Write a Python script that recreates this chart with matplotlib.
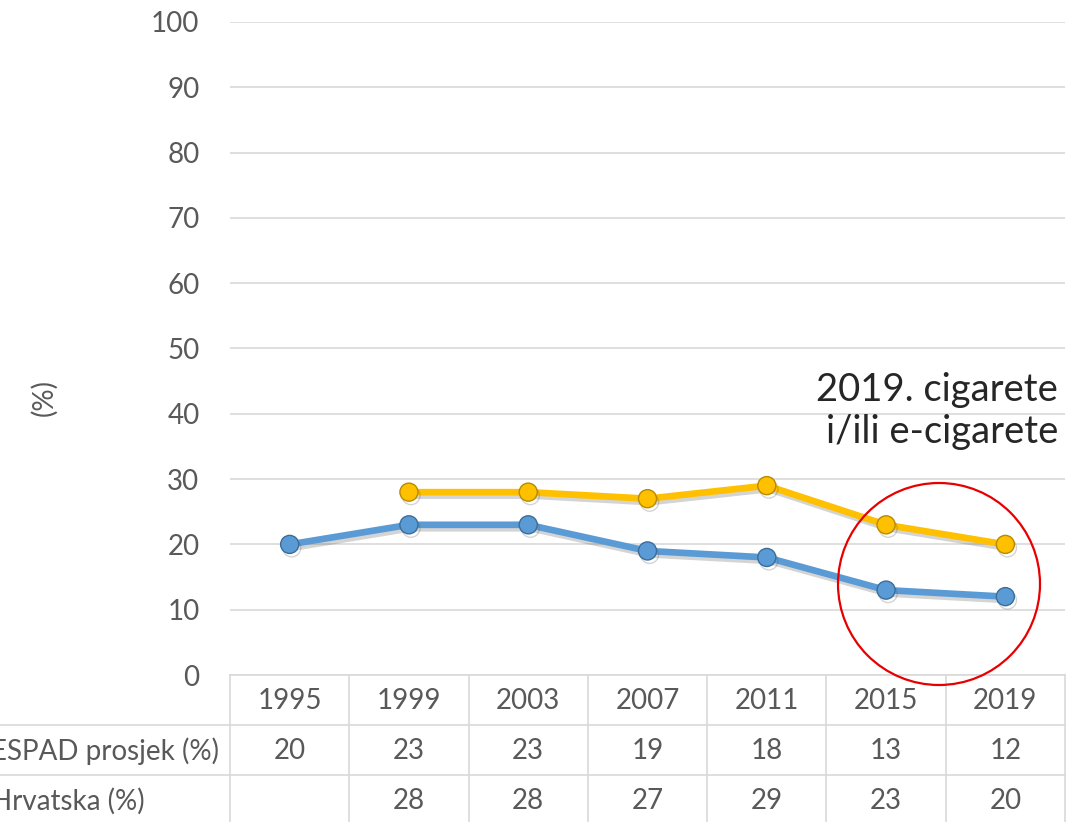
import matplotlib
matplotlib.use("Agg")
import matplotlib.pyplot as plt
import matplotlib.patheffects as pe
from matplotlib.patches import Ellipse
from matplotlib.transforms import blended_transform_factory
import numpy as np

years = ["1995", "1999", "2003", "2007", "2011", "2015", "2019"]
espad = [20, 23, 23, 19, 18, 13, 12]
hrvatska = [np.nan, 28, 28, 27, 29, 23, 20]
row_labels = ["ESPAD prosjek (%)", "Hrvatska (%)"]
y_ticks = list(range(0, 101, 10))
annotation = "2019. cigarete\ni/ili e-cigarete"

W, H = 1081, 822
plt.rcParams['font.family'] = ['Lato', 'DejaVu Sans']
TXT = '#595959'
GRID = '#d9d9d9'
FS = 20

fig = plt.figure(figsize=(W / 100, H / 100), dpi=100)

def fx(px):
    return px / W

def fy(py):
    return 1 - py / H

ax = fig.add_axes([fx(230), fy(675), fx(1065) - fx(230), fy(22) - fy(675)])
x = np.arange(len(years))
ax.set_xlim(-0.5, len(years) - 0.5)
ax.set_ylim(0, 100)
ax.set_yticks(y_ticks)
ax.set_yticklabels([str(v) for v in y_ticks], fontsize=FS, color=TXT)
ax.tick_params(axis='y', length=0, pad=22)
ax.set_xticks([])
for s in ['top', 'right', 'left']:
    ax.spines[s].set_visible(False)
ax.spines['bottom'].set_color(GRID)
ax.spines['bottom'].set_linewidth(1.2)
ax.yaxis.grid(True, color=GRID, linewidth=1.2)
ax.set_axisbelow(True)

shadow = [pe.SimpleLineShadow(offset=(1.5, -2.5), shadow_color='#555555', alpha=0.25), pe.Normal()]
ax.plot(x, espad, color='#5B9BD5', lw=4.8, marker='o', ms=13,
        mfc='#5B9BD5', mec='#3A6D9A', mew=1.0, path_effects=shadow, zorder=3)
ax.plot(x, hrvatska, color='#FFC000', lw=4.8, marker='o', ms=13,
        mfc='#FFC000', mec='#B88A00', mew=1.0, path_effects=shadow, zorder=4)

fig.text(fx(44), fy(398), '(%)', rotation=90, fontsize=FS, color=TXT, ha='center', va='center')

# data table
bt = blended_transform_factory(ax.transData, fig.transFigure)
bounds = np.arange(len(years) + 1) - 0.5
for b in bounds:
    ax.plot([b, b], [fy(675), fy(822)], transform=bt, color=GRID, lw=1.2, clip_on=False)
for py in [725, 775]:
    fig.add_artist(plt.Line2D([0, fx(1065)], [fy(py), fy(py)], color=GRID, lw=1.2))

for i, yr in enumerate(years):
    ax.text(x[i], fy(701), yr, transform=bt, ha='center', va='center', fontsize=FS, color=TXT)
    ax.text(x[i], fy(751), str(espad[i]), transform=bt, ha='center', va='center', fontsize=FS, color=TXT)
    if not np.isnan(hrvatska[i]):
        ax.text(x[i], fy(801), str(int(hrvatska[i])), transform=bt, ha='center', va='center', fontsize=FS, color=TXT)

fig.text(fx(-9), fy(751), row_labels[0], ha='left', va='center', fontsize=FS, color=TXT)
fig.text(fx(-9), fy(801), row_labels[1], ha='left', va='center', fontsize=FS, color=TXT)

# annotation
fig.text(fx(1058), fy(411), annotation, ha='right', va='center', fontsize=27.5,
         fontweight='normal', color='#262626', linespacing=1.2)
circ = Ellipse((fx(939), fy(584)), 202 / W, 202 / H, transform=fig.transFigure,
               fill=False, edgecolor='#E80000', lw=1.6)
fig.add_artist(circ)

fig.savefig('out.png', dpi=100)
